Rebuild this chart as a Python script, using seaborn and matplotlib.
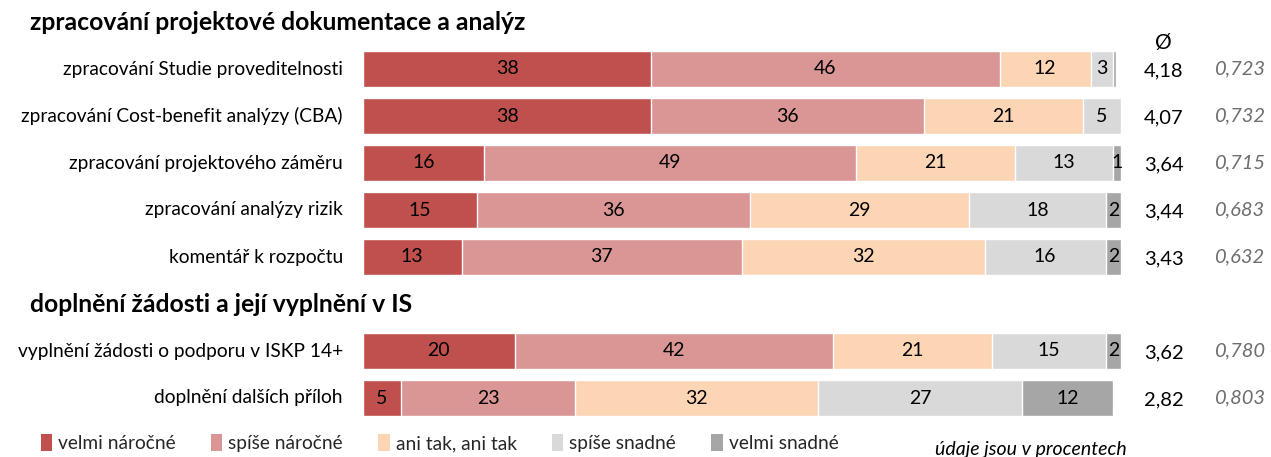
import numpy as np
import pandas as pd
import matplotlib
matplotlib.use("Agg")
import matplotlib.pyplot as plt
import matplotlib.transforms as mtransforms
from matplotlib.patches import Patch
import seaborn as sns

# --- data -----------------------------------------------------------------
group_titles = ["zpracování projektové dokumentace a analýz",
                "doplnění žádosti a její vyplnění v IS"]
categories = [
    "zpracování Studie proveditelnosti",
    "zpracování Cost-benefit analýzy (CBA)",
    "zpracování projektového záměru",
    "zpracování analýzy rizik",
    "komentář k rozpočtu",
    "vyplnění žádosti o podporu v ISKP 14+",
    "doplnění dalších příloh",
]
levels = ["velmi náročné", "spíše náročné", "ani tak, ani tak",
          "spíše snadné", "velmi snadné"]
velmi_narocne = [38, 38, 16, 15, 13, 20, 5]
spise_narocne = [46, 36, 49, 36, 37, 42, 23]
ani_tak = [12, 21, 21, 29, 32, 21, 32]
spise_snadne = [3, 5, 13, 18, 16, 15, 27]
velmi_snadne = [0.4, 0.3, 1, 2, 2, 2, 12]
means = ["4,18", "4,07", "3,64", "3,44", "3,43", "3,62", "2,82"]
std_devs = ["0,723", "0,732", "0,715", "0,683", "0,632", "0,780", "0,803"]

colors = ["#C0504D", "#D99694", "#FCD5B5", "#D9D9D9", "#A6A6A6"]

# --- layout: one row slot per header / bar --------------------------------
W, H = 1271, 457
slot_px, first_px = 47, 22
header_slots = [0, 6]
bar_slots = [1, 2, 3, 4, 5, 7, 8]

sns.set_theme(style="white")
plt.rcParams["font.family"] = ["Lato", "DejaVu Sans"]

fig = plt.figure(figsize=(W / 100, H / 100), dpi=100)
ax = fig.add_axes([363 / W, 0, (1121 - 363) / W, 1])

values = np.array([velmi_narocne, spise_narocne, ani_tak,
                   spise_snadne, velmi_snadne], dtype=float)
cum = np.cumsum(values, axis=0)

df = pd.DataFrame({"slot": bar_slots})
# stacked bars: draw cumulative totals from the outermost segment inward
for k in range(len(levels) - 1, -1, -1):
    df["total"] = cum[k]
    sns.barplot(data=df, x="total", y="slot", orient="h", native_scale=True,
                color=colors[k], saturation=1, width=0.77,
                edgecolor="white", linewidth=1.0, ax=ax)

ax.set_xlim(0, 100)
ax.set_ylim((H - first_px) / slot_px, -first_px / slot_px)
ax.axis("off")

# segment value labels
for k in range(len(levels)):
    for i, s in enumerate(bar_slots):
        v = values[k, i]
        if v < 1:
            continue
        x = cum[k, i] - v / 2
        ax.text(x, s, f"{v:g}", ha="center", va="center",
                fontsize=14, color="#000000")

# category labels, group headers, mean and std-dev columns
blend = mtransforms.blended_transform_factory(fig.transFigure, ax.transData)
fx = lambda px: px / W

for i, s in enumerate(bar_slots):
    ax.text(fx(343), s, categories[i], transform=blend,
            ha="right", va="center", fontsize=13.8, color="#000000")
    ax.text(fx(1164), s + 0.05, means[i], transform=blend, ha="center",
            va="center", fontsize=14.5, color="#000000")
    ax.text(fx(1215), s, std_devs[i], transform=blend, ha="left",
            va="center", fontsize=14.5, color="#6E6E6E", style="italic")
ax.text(fx(1163), 0.45, "Ø", transform=blend, ha="center",
        va="center", fontsize=15, color="#000000")

for t, s in zip(group_titles, header_slots):
    ax.text(fx(30), s, t, transform=blend, ha="left", va="center",
            fontsize=17.8, fontweight="bold", color="#000000")

# legend and note
handles = [Patch(facecolor=c, edgecolor="none") for c in colors]
fig.legend(handles, levels, loc="center left",
           bbox_to_anchor=(31 / W, 1 - 443 / H), ncol=5, frameon=False,
           fontsize=13.8, handlelength=0.6, handleheight=1.0,
           handletextpad=0.3, columnspacing=1.85, borderpad=0)
fig.text(1127 / W, 1 - 450 / H, "údaje jsou v procentech", ha="right",
         va="center", fontsize=14, style="italic", color="#000000")

fig.savefig("out.png", dpi=100)
